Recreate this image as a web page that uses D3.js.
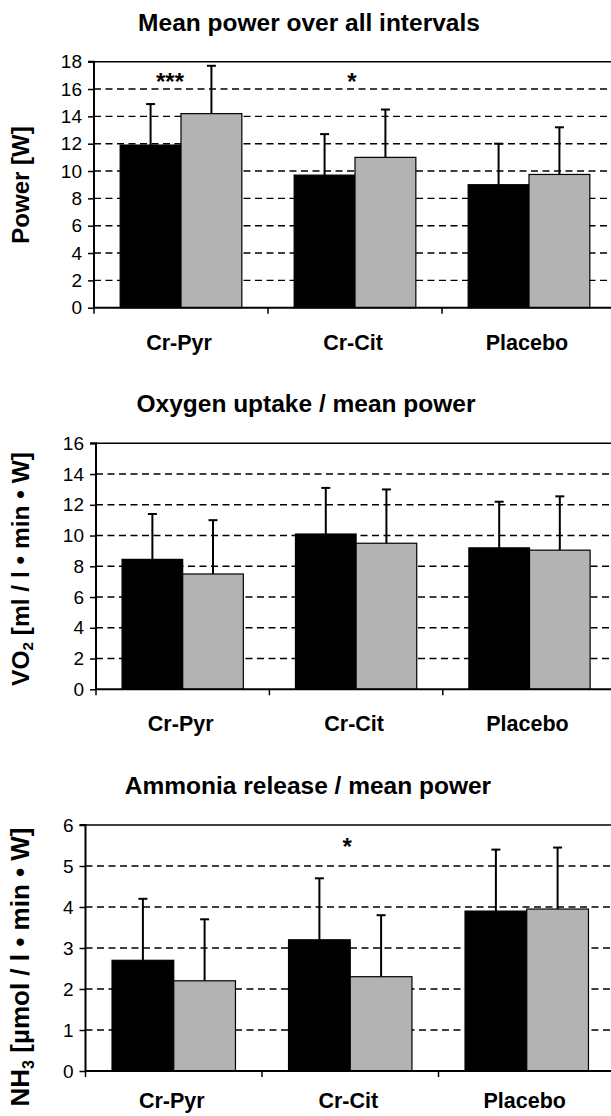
<!DOCTYPE html>
<html>
<head>
<meta charset="utf-8">
<script src="https://cdn.jsdelivr.net/npm/d3@7"></script>
<style>
  html, body { margin: 0; padding: 0; background: #fff; }
  svg { display: block; }
  text { font-family: "Liberation Sans", Arial, Helvetica, sans-serif; fill: #000; }
</style>
</head>
<body>
<svg id="chart" width="611" height="1116"></svg>
<script>
// ---------- DATA ----------
const categories = ["Cr-Pyr", "Cr-Cit", "Placebo"];

// Chart 1: Mean power over all intervals [W]
const powerBlack   = [11.9, 9.7, 9.0];
const powerBlackSD = [3.0, 3.0, 3.0];
const powerGray    = [14.2, 11.0, 9.75];
const powerGraySD  = [3.5, 3.5, 3.45];
const powerTicks   = [0, 2, 4, 6, 8, 10, 12, 14, 16, 18];
const powerMarks   = [{cat: "Cr-Pyr", label: "***", value: 16.95}, {cat: "Cr-Cit", label: "*", value: 16.95}];

// Chart 2: Oxygen uptake / mean power
const vo2Black   = [8.45, 10.1, 9.2];
const vo2BlackSD = [2.95, 3.0, 3.0];
const vo2Gray    = [7.5, 9.5, 9.05];
const vo2GraySD  = [3.5, 3.5, 3.5];
const vo2Ticks   = [0, 2, 4, 6, 8, 10, 12, 14, 16];
const vo2Marks   = [];

// Chart 3: Ammonia release / mean power
const nh3Black   = [2.7, 3.2, 3.9];
const nh3BlackSD = [1.5, 1.5, 1.5];
const nh3Gray    = [2.2, 2.3, 3.95];
const nh3GraySD  = [1.5, 1.5, 1.5];
const nh3Ticks   = [0, 1, 2, 3, 4, 5, 6];
const nh3Marks   = [{cat: "Cr-Cit", label: "*", value: 5.62}];

const titles = ["Mean power over all intervals", "Oxygen uptake / mean power", "Ammonia release / mean power"];

// ---------- DRAWING ----------
const svg = d3.select("#chart");
const W = 611;

function drawChart(cfg) {
  const g = svg.append("g");
  const x = d3.scaleBand().domain(categories).range([cfg.x0, cfg.x0 + cfg.catW * 3]).paddingInner(0).paddingOuter(0);
  const inner = d3.scaleBand().domain(["black", "gray"]).range([0, x.bandwidth()]).paddingInner(0).paddingOuter(0.43);
  const y = d3.scaleLinear().domain([0, d3.max(cfg.ticks)]).range([cfg.yBottom, cfg.yTop]);

  // title
  g.append("text")
    .attr("x", cfg.titleX).attr("y", cfg.yTop - 31)
    .attr("text-anchor", "middle")
    .style("font-size", "24.5px").style("font-weight", "bold")
    .text(cfg.title);

  // gridlines
  const ymax = d3.max(cfg.ticks);
  g.selectAll("line.grid").data(cfg.ticks.filter(t => t > 0)).enter().append("line")
    .attr("x1", cfg.x0).attr("x2", W)
    .attr("y1", d => y(d)).attr("y2", d => y(d))
    .attr("stroke", "#000").attr("stroke-width", d => d === ymax ? 1.6 : 1.4)
    .attr("stroke-dasharray", d => d === ymax ? null : "7,4.5");

  // bars
  const series = [
    {key: "black", vals: cfg.black, sd: cfg.blackSD, fill: "#000000"},
    {key: "gray", vals: cfg.gray, sd: cfg.graySD, fill: "#b3b3b3"}
  ];
  series.forEach(s => {
    const bx = (i) => x(categories[i]) + inner(s.key);
    g.selectAll(null).data(s.vals).enter().append("line")
      .attr("x1", (d, i) => bx(i) + inner.bandwidth() / 2)
      .attr("x2", (d, i) => bx(i) + inner.bandwidth() / 2)
      .attr("y1", d => y(d)).attr("y2", (d, i) => y(d + s.sd[i]))
      .attr("stroke", "#000").attr("stroke-width", 2);
    g.selectAll(null).data(s.vals).enter().append("line")
      .attr("x1", (d, i) => bx(i) + inner.bandwidth() / 2 - 4.5)
      .attr("x2", (d, i) => bx(i) + inner.bandwidth() / 2 + 4.5)
      .attr("y1", (d, i) => y(d + s.sd[i])).attr("y2", (d, i) => y(d + s.sd[i]))
      .attr("stroke", "#000").attr("stroke-width", 2);
    g.selectAll(null).data(s.vals).enter().append("rect")
      .attr("x", (d, i) => bx(i))
      .attr("width", inner.bandwidth())
      .attr("y", d => y(d))
      .attr("height", d => y(0) - y(d))
      .attr("fill", s.fill)
      .attr("stroke", "#000").attr("stroke-width", 1.2);
  });

  // y axis
  const yAxis = d3.axisLeft(y).tickValues(cfg.ticks).tickSize(6).tickPadding(6).tickFormat(d3.format("d"));
  const ya = g.append("g").attr("transform", `translate(${cfg.x0},0)`).call(yAxis);
  ya.select(".domain").attr("stroke", "#000").attr("stroke-width", 2).attr("d", `M-6,${cfg.yTop}H0V${cfg.yBottom}`);
  ya.selectAll(".tick line").attr("stroke", "#000").attr("stroke-width", 1.5);
  ya.selectAll(".tick text").style("font-size", "19px").style("font-family", '"Liberation Sans", Arial, sans-serif').attr("fill", "#000");

  // x axis
  const xa = g.append("g").attr("transform", `translate(0,${cfg.yBottom})`);
  xa.append("line").attr("x1", cfg.x0).attr("x2", W).attr("y1", 0).attr("y2", 0)
    .attr("stroke", "#000").attr("stroke-width", 2);
  const bounds = categories.map(c => x(c)).concat([x(categories[2]) + x.bandwidth()]);
  xa.selectAll("line.xt").data(bounds).enter().append("line")
    .attr("x1", d => d).attr("x2", d => d).attr("y1", 0).attr("y2", 6)
    .attr("stroke", "#000").attr("stroke-width", 1.5);
  xa.selectAll("text.cat").data(categories).enter().append("text")
    .attr("x", d => x(d) + x.bandwidth() / 2 - 2)
    .attr("y", cfg.catY)
    .attr("text-anchor", "middle")
    .style("font-size", "21.5px").style("font-weight", "bold")
    .text(d => d);

  // significance marks
  g.selectAll("text.mark").data(cfg.marks).enter().append("text")
    .attr("x", d => x(d.cat) + x.bandwidth() / 2 - (d.label.length > 1 ? 11 : 3))
    .attr("y", d => y(d.value) + 14)
    .attr("text-anchor", "middle")
    .style("font-size", "24px").style("font-weight", "bold")
    .text(d => d.label);

  // y axis title
  const yt = g.append("text")
    .attr("transform", `translate(${cfg.ytX},${cfg.ytY}) rotate(-90)`)
    .attr("text-anchor", "middle")
    .attr("dy", "0.36em")
    .style("font-size", cfg.ytSize + "px").style("font-weight", "bold");
  cfg.ytParts.forEach(p => {
    const ts = yt.append("tspan").text(p.t);
    if (p.sub) ts.style("font-size", (cfg.ytSize * 0.62) + "px").attr("dy", "0.3em");
    if (p.after) ts.attr("dy", "-0.19em");
  });
}

drawChart({
  title: titles[0], titleX: 309,
  x0: 94, catW: 174, yTop: 61.7, yBottom: 307.7, catY: 42,
  ticks: powerTicks, black: powerBlack, blackSD: powerBlackSD, gray: powerGray, graySD: powerGraySD,
  marks: powerMarks,
  ytX: 20, ytY: 185, ytSize: 24,
  ytParts: [{t: "Power [W]"}]
});

drawChart({
  title: titles[1], titleX: 306,
  x0: 96, catW: 173.4, yTop: 443.3, yBottom: 689.3, catY: 42,
  ticks: vo2Ticks, black: vo2Black, blackSD: vo2BlackSD, gray: vo2Gray, graySD: vo2GraySD,
  marks: vo2Marks,
  ytX: 20, ytY: 569, ytSize: 24.5,
  ytParts: [{t: "VO"}, {t: "2", sub: true}, {t: " [ml / l \u2022 min \u2022 W]", after: true}]
});

drawChart({
  title: titles[2], titleX: 308,
  x0: 85.5, catW: 176.5, yTop: 825, yBottom: 1071, catY: 37,
  ticks: nh3Ticks, black: nh3Black, blackSD: nh3BlackSD, gray: nh3Gray, graySD: nh3GraySD,
  marks: nh3Marks,
  ytX: 20, ytY: 967, ytSize: 26,
  ytParts: [{t: "NH"}, {t: "3", sub: true}, {t: " [\u00b5mol / l \u2022 min \u2022 W]", after: true}]
});
</script>
</body>
</html>
